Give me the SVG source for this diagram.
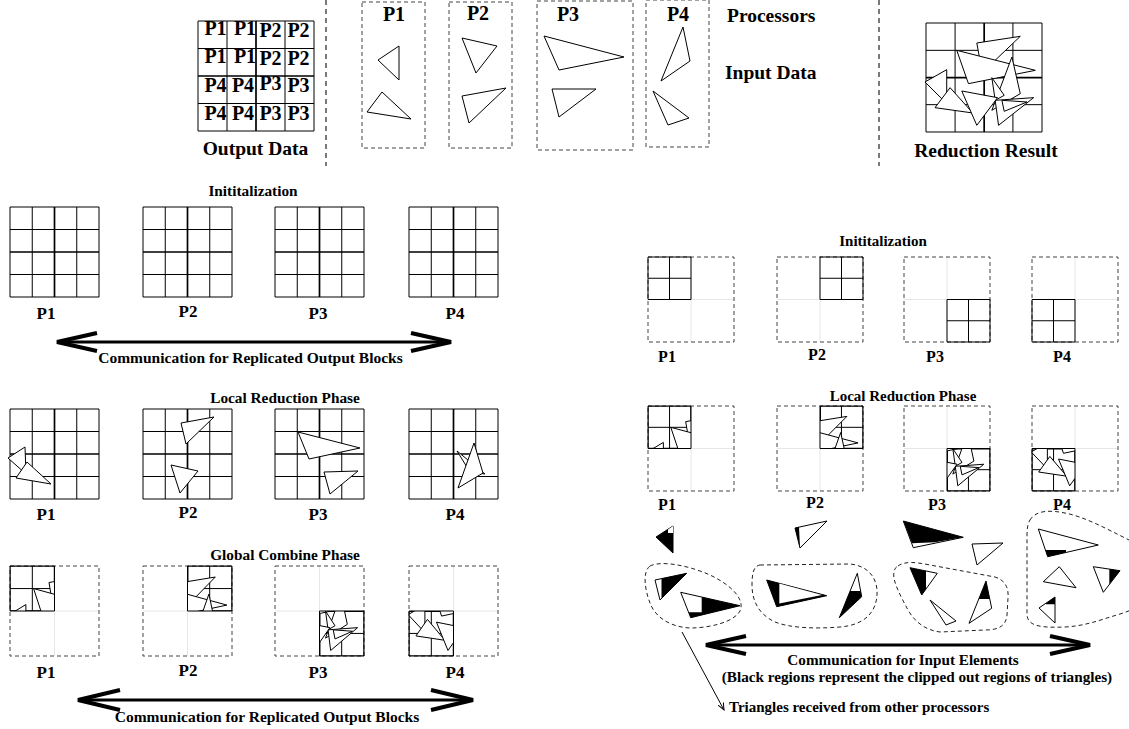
<svg xmlns="http://www.w3.org/2000/svg" xmlns:xlink="http://www.w3.org/1999/xlink" width="1129" height="729" viewBox="0 0 1129 729">
<style>
.t{font-family:"Liberation Serif","Times New Roman",serif;font-weight:bold;fill:#000}
.m{text-anchor:middle}
.gl{fill:none;stroke:#000;stroke-width:1;vector-effect:non-scaling-stroke}
.glm{fill:none;stroke:#000;stroke-width:1.7;vector-effect:non-scaling-stroke}
.tri{fill:#fff;stroke:#000;stroke-width:1;stroke-linejoin:miter;vector-effect:non-scaling-stroke}
.blk{fill:#000;stroke:none}
.dash{fill:none;stroke:#444;stroke-width:1;stroke-dasharray:4 3}
.sep{fill:none;stroke:#222;stroke-width:1.2;stroke-dasharray:5 4}
.faint{stroke:#e6e6e6;stroke-width:1;fill:none}
.blob{fill:none;stroke:#222;stroke-width:1;stroke-dasharray:4 3}
.arr{fill:none;stroke:#000;stroke-width:3}
.head{fill:none;stroke:#000;stroke-width:4;stroke-linejoin:miter}
</style>
<defs>
<g id="grid4l">
<path class="gl" d="M0 0H89V90H0Z M22.25 0V90 M66.75 0V90 M0 22.5H89 M0 67.5H89"/>
<path class="glm" d="M44.5 0V90 M0 45H89"/>
</g>
<g id="dashl">
<path class="faint" d="M44.5 0V90 M0 45H89"/>
<rect class="dash" x="0" y="0" width="89" height="90"/>
</g>
<g id="dashr">
<path class="faint" d="M43 0V85 M0 42.5H86"/>
<rect class="dash" x="0" y="0" width="86" height="85"/>
</g>
<path id="quadr" class="gl" d="M0 0H43V42.5H0Z M21.5 0V42.5 M0 21.25H43"/>
<g id="rr">
<path class="gl" d="M0 0H347V327H0Z M87 0V327 M260 0V327 M0 82H347 M0 245H347"/>
<path class="glm" d="M174 0V327 M0 164H347"/>
<polygon class="tri" points="152,60 282,40 168,149"/>
<polygon class="tri" points="92,82 327,142 127,182"/>
<polygon class="tri" points="-3,177 62,140 62,242"/>
<polygon class="tri" points="27,254 72,194 140,270"/>
<polygon class="tri" points="257,102 282,212 197,262"/>
<polygon class="tri" points="197,164 234,217 207,232"/>
<polygon class="tri" points="207,232 322,224 217,307"/>
<polygon class="tri" points="227,232 302,237 234,265"/>
<polygon class="tri" points="107,204 214,224 152,307"/>
</g>
<clipPath id="cl1" clipPathUnits="userSpaceOnUse"><rect x="10" y="566" width="44.5" height="45"/></clipPath>
<clipPath id="cl2" clipPathUnits="userSpaceOnUse"><rect x="187.5" y="566" width="44.5" height="45"/></clipPath>
<clipPath id="cl3" clipPathUnits="userSpaceOnUse"><rect x="319.5" y="611" width="44.5" height="45"/></clipPath>
<clipPath id="cl4" clipPathUnits="userSpaceOnUse"><rect x="409" y="611" width="44.5" height="45"/></clipPath>
<clipPath id="cr1" clipPathUnits="userSpaceOnUse"><rect x="648" y="406" width="43" height="42.5"/></clipPath>
<clipPath id="cr2" clipPathUnits="userSpaceOnUse"><rect x="820" y="406" width="43" height="42.5"/></clipPath>
<clipPath id="cr3" clipPathUnits="userSpaceOnUse"><rect x="947" y="448.5" width="43" height="42.5"/></clipPath>
<clipPath id="cr4" clipPathUnits="userSpaceOnUse"><rect x="1032" y="448.5" width="43" height="42.5"/></clipPath>
<marker id="thin" markerWidth="8" markerHeight="8" refX="7" refY="4" orient="auto" markerUnits="userSpaceOnUse">
<path d="M0 1L7 4L0 7" fill="none" stroke="#000" stroke-width="1"/>
</marker>
</defs>
<rect x="0" y="0" width="1129" height="729" fill="#fff"/>

<!-- Top: output data -->
<g id="output-data">
<path class="gl" d="M198 21H314V131H198Z M227 21V131 M285 21V131 M198 48.5H314 M198 103.5H314"/>
<path class="glm" d="M256 21V131 M198 76H314"/>
<g class="t m" font-size="20">
<text x="215.5" y="35">P1</text><text x="245" y="35">P1</text><text x="270.5" y="37">P2</text><text x="298.5" y="37">P2</text>
<text x="215.5" y="63">P1</text><text x="245" y="63">P1</text><text x="270.5" y="65">P2</text><text x="298.5" y="65">P2</text>
<text x="215.5" y="92">P4</text><text x="243" y="92">P4</text><text x="270.5" y="90">P3</text><text x="298.5" y="92">P3</text>
<text x="215.5" y="120">P4</text><text x="243" y="120">P4</text><text x="270.5" y="120">P3</text><text x="298.5" y="120">P3</text>
</g>
<text class="t m" x="255.5" y="155" font-size="19.5">Output Data</text>
</g>
<line class="sep" x1="326" y1="0" x2="326" y2="166"/>
<line class="sep" x1="879" y1="0" x2="879" y2="166"/>

<!-- Top: processors with input data -->
<g id="proc-p1">
<rect class="dash" x="362" y="2" width="63" height="146"/>
<text class="t m" x="394" y="21" font-size="20">P1</text>
<polygon class="tri" points="399,46 378,60 399,80"/>
<polygon class="tri" points="382,92 367,112 411,119"/>
</g>
<g id="proc-p2">
<rect class="dash" x="449" y="2" width="63" height="146"/>
<text class="t m" x="478" y="20" font-size="20">P2</text>
<polygon class="tri" points="462,38 497,46 476,73"/>
<polygon class="tri" points="462,96 506,88 469,123"/>
</g>
<g id="proc-p3">
<rect class="dash" x="537" y="1" width="96" height="149"/>
<text class="t m" x="568" y="21" font-size="20">P3</text>
<polygon class="tri" points="544,36 624,57 559,70"/>
<polygon class="tri" points="552,89 596,89 559,117"/>
</g>
<g id="proc-p4">
<rect class="dash" x="646" y="0" width="63" height="147"/>
<text class="t m" x="678" y="21" font-size="20">P4</text>
<polygon class="tri" points="683,27 690,61 661,81"/>
<polygon class="tri" points="653,91 689,118 668,125"/>
</g>
<g id="legend-top">
<text class="t" x="727" y="22" font-size="19.5">Processors</text>
<text class="t" x="725" y="79" font-size="19.5">Input Data</text>
</g>

<!-- Top: reduction result -->
<g id="reduction-result">
<use xlink:href="#rr" transform="translate(926,23) scale(0.3343,0.3333)"/>
<text class="t m" x="986" y="157" font-size="19.5">Reduction Result</text>
</g>

<!-- Left: initialization -->
<g id="left-init">
<text class="t m" x="253" y="196" font-size="15.3">Inititalization</text>
<use xlink:href="#grid4l" x="10" y="207"/>
<use xlink:href="#grid4l" x="143" y="207"/>
<use xlink:href="#grid4l" x="275" y="207"/>
<use xlink:href="#grid4l" x="409" y="207"/>
<g class="t m" font-size="17">
<text x="46" y="319">P1</text><text x="188" y="317">P2</text><text x="318" y="319">P3</text><text x="455" y="319">P4</text>
</g>
</g>

<!-- Left: local reduction -->
<g id="left-local">
<text class="t m" x="285" y="403" font-size="15.3">Local Reduction Phase</text>
<use xlink:href="#grid4l" x="10" y="409"/>
<use xlink:href="#grid4l" x="143" y="409"/>
<use xlink:href="#grid4l" x="275" y="409"/>
<use xlink:href="#grid4l" x="409" y="409"/>
<polygon class="tri" points="8,458 25,447 26,474"/>
<polygon class="tri" points="16,478 27,462 51,484"/>
<polygon class="tri" points="181,423 214,417 186,444"/>
<polygon class="tri" points="171,465 198,471 180,493"/>
<polygon class="tri" points="298,432 360,448 309,459"/>
<polygon class="tri" points="324,472 358,471 330,494"/>
<polygon class="tri" points="457,451 485,474 470,472"/>
<polygon class="tri" points="474,443 483,473 458,488"/>
<g class="t m" font-size="17">
<text x="46" y="520">P1</text><text x="188" y="518">P2</text><text x="318" y="520">P3</text><text x="455" y="520">P4</text>
</g>
</g>

<!-- Left: global combine -->
<g id="left-global">
<text class="t m" x="285" y="560" font-size="15.3">Global Combine Phase</text>
<use xlink:href="#dashl" x="10" y="566"/>
<use xlink:href="#dashl" x="143" y="566"/>
<use xlink:href="#dashl" x="275" y="566"/>
<use xlink:href="#dashl" x="409" y="566"/>
<g clip-path="url(#cl1)"><use xlink:href="#rr" transform="translate(10,566) scale(0.25648,0.27523)"/></g>
<g clip-path="url(#cl2)"><use xlink:href="#rr" transform="translate(143,566) scale(0.25648,0.27523)"/></g>
<g clip-path="url(#cl3)"><use xlink:href="#rr" transform="translate(275,566) scale(0.25648,0.27523)"/></g>
<g clip-path="url(#cl4)"><use xlink:href="#rr" transform="translate(409,566) scale(0.25648,0.27523)"/></g>
<rect class="gl" x="10" y="566" width="44.5" height="45"/>
<rect class="gl" x="187.5" y="566" width="44.5" height="45"/>
<rect class="gl" x="319.5" y="611" width="44.5" height="45"/>
<rect class="gl" x="409" y="611" width="44.5" height="45"/>
<g class="t m" font-size="17">
<text x="46" y="678">P1</text><text x="188" y="676">P2</text><text x="318" y="678">P3</text><text x="455" y="678">P4</text>
</g>
</g>

<!-- Right: initialization -->
<g id="right-init">
<text class="t m" x="883" y="246" font-size="15">Inititalization</text>
<use xlink:href="#dashr" x="648" y="257"/>
<use xlink:href="#dashr" x="777" y="257"/>
<use xlink:href="#dashr" x="904" y="257"/>
<use xlink:href="#dashr" x="1032" y="257"/>
<use xlink:href="#quadr" x="648" y="257"/>
<use xlink:href="#quadr" x="820" y="257"/>
<use xlink:href="#quadr" x="947" y="299.5"/>
<use xlink:href="#quadr" x="1032" y="299.5"/>
<g class="t m" font-size="16">
<text x="667" y="362">P1</text><text x="817" y="360">P2</text><text x="935" y="362">P3</text><text x="1062" y="362">P4</text>
</g>
</g>

<!-- Right: local reduction -->
<g id="right-local">
<text class="t m" x="903" y="401" font-size="15">Local Reduction Phase</text>
<use xlink:href="#dashr" x="648" y="406"/>
<use xlink:href="#dashr" x="777" y="406"/>
<use xlink:href="#dashr" x="904" y="406"/>
<use xlink:href="#dashr" x="1032" y="406"/>
<g clip-path="url(#cr1)"><use xlink:href="#rr" transform="translate(648,406) scale(0.24784,0.25994)"/></g>
<g clip-path="url(#cr2)"><use xlink:href="#rr" transform="translate(777,406) scale(0.24784,0.25994)"/></g>
<g clip-path="url(#cr3)"><use xlink:href="#rr" transform="translate(904,406) scale(0.24784,0.25994)"/></g>
<g clip-path="url(#cr4)"><use xlink:href="#rr" transform="translate(1032,406) scale(0.24784,0.25994)"/></g>
<rect class="gl" x="648" y="406" width="43" height="42.5"/>
<rect class="gl" x="820" y="406" width="43" height="42.5"/>
<rect class="gl" x="947" y="448.5" width="43" height="42.5"/>
<rect class="gl" x="1032" y="448.5" width="43" height="42.5"/>
<g class="t m" font-size="16">
<text x="667" y="510">P1</text><text x="815" y="508">P2</text><text x="937" y="510">P3</text><text x="1062" y="510">P4</text>
</g>
</g>

<!-- Right: exchanged triangles -->
<g id="right-tris-p1">
<polygon class="tri" points="656,537 673,526 673,553" style="fill:#000"/>
<polygon points="668,529.5 673,526 673,533 668,533" fill="#fff"/>
<path class="blob" d="M650,566 C662,560 690,566 710,575 C733,586 745,600 740,611 C734,622 710,628 690,628 C670,627 655,617 650,603 C645,590 642,572 650,566 Z"/>
<polygon class="tri" points="655,580 686.7,573.3 660,600"/>
<polygon class="blk" points="661.5,578.6 686.7,573.3 661.5,598.5"/>
<polygon class="tri" points="680.7,592.3 740,605.7 690.7,617.7"/>
<polygon class="blk" points="701.7,597 740,605.7 690.7,617.7 688.6,612.3 701.7,612.3"/>
</g>
<g id="right-tris-p2">
<polygon class="tri" points="795,528 827,521 800,548"/>
<polygon class="blk" points="795,528 799,527 800,548"/>
<path class="blob" d="M760,565 L850,564 C870,566 878,580 877,595 C876,612 865,625 840,627 C815,629 790,628 775,622 C758,614 752,600 752,585 C752,572 754,566 760,565 Z"/>
<polygon class="tri" points="766.7,580 826.7,595.7 776.7,606.7" style="fill:#000"/>
<polygon points="779.3,583.5 822,595 779.3,603.5" fill="#fff"/>
<polygon class="tri" points="857.3,573.3 861.7,596.7 839.3,617.7"/>
<polygon class="blk" points="850.1,591 860.6,591 861.7,596.7 839.3,617.7"/>
</g>
<g id="right-tris-p3">
<polygon class="tri" points="903.3,521 963.3,537.3 913.3,547.7"/>
<polygon class="blk" points="903.3,521 963.3,537.3 935,542.3 912,543.3"/>
<polygon class="tri" points="972,544 1003,543 977,565"/>
<path class="blob" d="M898,566 C905,561 915,562 930,565 L995,577 C1005,580 1009,588 1008,598 L1007,615 C1006,625 1000,630 985,630 L940,632 C925,630 915,622 908,610 C900,595 892,580 894,572 C895,568 896,567 898,566 Z"/>
<polygon class="tri" points="910,567.7 937.3,573.3 921.7,595"/>
<polygon class="blk" points="910,567.7 926,571 926,589 921.7,595"/>
<polygon class="tri" points="986,581 991.7,608.3 969,623.3"/>
<polygon class="blk" points="986,581 989.8,599 978.8,599"/>
<polygon class="tri" points="930,600 956,621 946,625"/>
</g>
<g id="right-tris-p4">
<path class="blob" d="M1030,520 C1036,510 1050,510 1065,513 C1085,517 1105,528 1129,540 L1150,552 L1150,600 C1138,607 1130,611 1120,614 C1100,620 1085,626 1065,627 C1040,628 1028,626 1027,615 L1027,535 C1027,528 1028,523 1030,520 Z"/>
<polygon class="tri" points="1038.3,529 1098.3,545 1047.7,556.7"/>
<polygon class="blk" points="1045.4,550 1066,550 1066,552.5 1047.7,556.7"/>
<polygon class="tri" points="1043.3,581.7 1059.3,566.7 1076,587.7"/>
<polygon class="tri" points="1093.3,566.7 1120,570.7 1103.3,592.3"/>
<polygon class="blk" points="1109.3,569.1 1120,570.7 1109.3,584.5"/>
<polygon class="tri" points="1039,608 1055,597 1055,623"/>
<polygon class="blk" points="1046,603.2 1055,597 1055,604.3 1046,604.3"/>
</g>

<!-- Connectors -->
<g id="connectors">
<line class="arr" x1="60" y1="342" x2="448" y2="342"/>
<polyline class="head" points="97,333 57,342 97,351"/>
<polyline class="head" points="411,333 451,342 411,351"/>
<line class="arr" x1="81" y1="700" x2="470" y2="700"/>
<polyline class="head" points="120,690 78,700 120,710"/>
<polyline class="head" points="431,690 473,700 431,710"/>
<line class="arr" x1="709" y1="645" x2="1087" y2="645"/>
<polyline class="head" points="746,636 706,645 746,654"/>
<polyline class="head" points="1050,636 1090,645 1050,654"/>
<line x1="682" y1="632" x2="724" y2="710" stroke="#000" stroke-width="1" marker-end="url(#thin)"/>
</g>

<!-- Connector labels -->
<g id="labels">
<text class="t m" x="250.5" y="363" font-size="15.5">Communication for Replicated Output Blocks</text>
<text class="t m" x="267" y="722" font-size="15.5">Communication for Replicated Output Blocks</text>
<text class="t m" x="903" y="665" font-size="15.2">Communication for Input Elements</text>
<text class="t m" x="917" y="682" font-size="15.2">(Black regions represent the clipped out regions of triangles)</text>
<text class="t" x="729" y="712" font-size="15">Triangles received from other processors</text>
</g>
</svg>
